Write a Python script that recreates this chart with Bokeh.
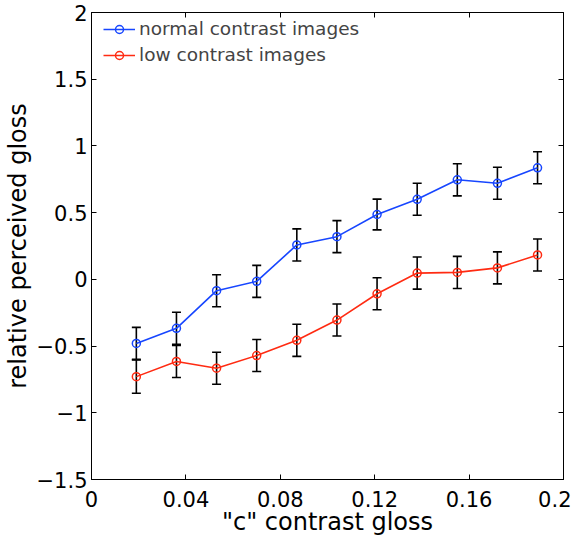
from bokeh.plotting import figure
from bokeh.models import (ColumnDataSource, Range1d, LinearAxis, FixedTicker,
                          Whisker, TeeHead, Legend, LegendItem)
from bokeh.embed import file_html
from bokeh.resources import INLINE

# ---- data ----
contrast = [0.019, 0.036, 0.053, 0.070, 0.087, 0.104, 0.121, 0.138, 0.155, 0.172, 0.189]
normal_gloss = [-0.48, -0.367, -0.085, -0.015, 0.258, 0.32, 0.486, 0.60, 0.746, 0.72, 0.836]
normal_err = [0.12, 0.12, 0.12, 0.12, 0.12, 0.12, 0.115, 0.12, 0.12, 0.12, 0.12]
low_gloss = [-0.729, -0.615, -0.666, -0.571, -0.457, -0.305, -0.108, 0.047, 0.052, 0.086, 0.183]
low_err = [0.125, 0.12, 0.12, 0.12, 0.12, 0.12, 0.12, 0.12, 0.12, 0.12, 0.12]

x_ticks = [0, 0.04, 0.08, 0.12, 0.16, 0.2]
x_tick_labels = ["0", "0.04", "0.08", "0.12", "0.16", "0.2"]
y_ticks = [-1.5, -1, -0.5, 0, 0.5, 1, 1.5, 2]
y_tick_labels = ["\u22121.5", "\u22121", "\u22120.5", "0", "0.5", "1", "1.5", "2"]

series_names = ["normal contrast images", "low contrast images"]
BLUE = "#1746ff"
RED = "#ff2b12"
FONT = "DejaVu Sans"

W, H = 571, 541
BL, BT, BR, BB = 85, 12, 8, 62
p = figure(width=W, height=H, output_backend="svg", toolbar_location=None,
           x_range=Range1d(0, 0.2), y_range=Range1d(-1.5, 2),
           min_border_left=BL, min_border_top=BT, min_border_right=BR, min_border_bottom=BB)
p.grid.visible = False
p.outline_line_color = "black"
p.outline_line_width = 1
p.background_fill_color = "white"
p.border_fill_color = "white"

def style_axis(ax, ticks, labels, show_labels=True):
    ax.ticker = FixedTicker(ticks=ticks)
    ax.major_tick_in = 5
    ax.major_tick_out = 0
    ax.minor_tick_line_color = None
    ax.axis_line_color = "black"
    ax.major_tick_line_color = "black"
    ax.major_label_text_font = FONT
    ax.axis_label_text_font = FONT
    ax.axis_label_text_font_size = "24px"
    ax.axis_label_text_font_style = "normal"
    ax.axis_label_text_color = "black"
    if show_labels:
        ax.major_label_overrides = {t: l for t, l in zip(ticks, labels)}
        ax.major_label_text_color = "black"
        ax.major_label_text_font_size = "21px"
    else:
        ax.major_label_overrides = {t: "" for t in ticks}
        ax.major_label_text_color = None
        ax.major_label_text_font_size = "1px"
        ax.major_label_standoff = 0

style_axis(p.xaxis[0], x_ticks, x_tick_labels)
style_axis(p.yaxis[0], y_ticks, y_tick_labels)
p.xaxis[0].axis_label = '"c" contrast gloss'
p.yaxis[0].axis_label = "relative perceived gloss"
p.xaxis[0].major_label_standoff = 11
p.xaxis[0].axis_label_standoff = -2
p.yaxis[0].major_label_standoff = 4
p.yaxis[0].axis_label_standoff = 2

top_ax = LinearAxis()
style_axis(top_ax, x_ticks, x_tick_labels, show_labels=False)
p.add_layout(top_ax, "above")
right_ax = LinearAxis()
style_axis(right_ax, y_ticks, y_tick_labels, show_labels=False)
p.add_layout(right_ax, "right")

colors = [BLUE, RED]
datasets = [(normal_gloss, normal_err), (low_gloss, low_err)]
items = []
for name, color, (vals, errs) in zip(series_names, colors, datasets):
    src = ColumnDataSource(dict(
        x=contrast, y=vals,
        lo=[v - e for v, e in zip(vals, errs)],
        hi=[v + e for v, e in zip(vals, errs)]))
    w = Whisker(source=src, base="x", lower="lo", upper="hi", dimension="height",
                line_color="black", line_width=1.6,
                upper_head=TeeHead(size=9, line_color="black", line_width=1.6),
                lower_head=TeeHead(size=9, line_color="black", line_width=1.6))
    p.add_layout(w)
    r1 = p.line("x", "y", source=src, line_color=color, line_width=1.6)
    r2 = p.scatter("x", "y", source=src, marker="circle", size=8,
                   line_color=color, line_width=1.5, fill_color=None)
    items.append(LegendItem(label=name, renderers=[r1, r2]))

frame_h = H - BT - BB
legend_bottom_from_frame_top = 73 - 8 - BT  # legend's bottom edge at page y ~73
legend = Legend(items=items, location=(12, frame_h - legend_bottom_from_frame_top),
                margin=0, padding=0,
                glyph_width=32, glyph_height=20, spacing=5, label_standoff=4,
                label_height=20,
                label_text_font=FONT, label_text_font_size="18.5px",
                border_line_color=None, background_fill_alpha=0)
p.add_layout(legend, "center")

open("out.html", "w").write(file_html(p, INLINE))
